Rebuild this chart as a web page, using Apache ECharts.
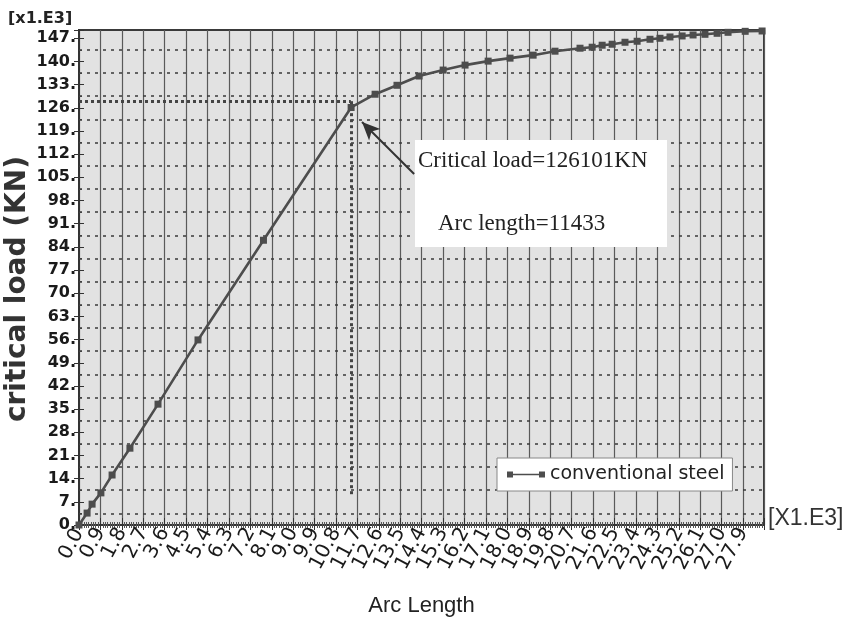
<!DOCTYPE html>
<html><head><meta charset="utf-8">
<script src="https://cdn.jsdelivr.net/npm/echarts@6/dist/echarts.min.js"></script>
<style>html,body{margin:0;padding:0;background:#fff}#c{width:847px;height:622px}</style>
</head><body><div id="c"></div>
<script>
// ---- data ----
const arcLength = [0, 0.34, 0.55, 0.92, 1.39, 2.14, 3.32, 5.00, 7.75, 11.433, 12.44, 13.36, 14.29, 15.30, 16.22, 17.19, 18.11, 19.08, 20.00, 21.05, 21.56, 21.98, 22.40, 22.94, 23.45, 23.99, 24.41, 24.83, 25.34, 25.80, 26.30, 26.81, 27.27, 27.99, 28.70];
const criticalLoad = [0, 3.6, 6.3, 9.7, 15.1, 23.2, 36.5, 55.9, 86.0, 126.101, 130.1, 132.8, 135.6, 137.4, 138.9, 140.1, 141.0, 141.9, 143.1, 144.0, 144.3, 144.9, 145.2, 145.8, 146.1, 146.7, 147.0, 147.4, 147.7, 148.0, 148.2, 148.5, 148.8, 149.1, 149.2];
const xTickLabels = ["0.0","0.9","1.8","2.7","3.6","4.5","5.4","6.3","7.2","8.1","9.0","9.9","10.8","11.7","12.6","13.5","14.4","15.3","16.2","17.1","18.0","18.9","19.8","20.7","21.6","22.5","23.4","24.3","25.2","26.1","27.0","27.9"];
const yTickLabels = ["0.","7.","14.","21.","28.","35.","42.","49.","56.","63.","70.","77.","84.","91.","98.","105.","112.","119.","126.","133.","140.","147."];
const yGridLines = [3.5,10.5,17.5,24.5,31.5,38.5,45.5,52.5,59.5,66.5,73.5,80.5,87.5,94.5,101.5,108.5,115.5,122.5,129.5,136.5,143.5];
const guideH = [[0,128],[11.42,128]];
const guideV = [[11.42,128],[11.42,9]];
const arrowPts = [[14.08,106.0],[11.89,121.7]];
const seriesName = "conventional steel";
const xTitle = "Arc Length";
const yTitle = "critical load (KN)";
const annText1 = "Critical load=126101KN";
const annText2 = "Arc length=11433";
const xRange = {min:0, max:28.78, step:0.9};
const yRange = {min:0, max:149.5, step:7};

const chart = echarts.init(document.getElementById('c'));
const axisCol = '#333';
const xLabelRotate = 62, xLabelMargin = 4, xLabelFont = 'DejaVu Sans', xLabelSize = 20;
const xAxisBase = {type:'value', min:xRange.min, max:xRange.max, interval:xRange.step};
const yAxisBase = {type:'value', min:yRange.min, max:yRange.max, interval:yRange.step};
chart.setOption({
  animation:false,
  backgroundColor:'#fff',
  grid:{left:79,right:83,top:30,bottom:97,containLabel:false,outerBoundsMode:'none',show:true,backgroundColor:'#e2e2e2',borderColor:'#3a3a3a',borderWidth:2},
  legend:{
    data:[seriesName], left:497, top:458, orient:'horizontal', z:50,
    backgroundColor:'#fff', borderColor:'#888', borderWidth:1, padding:[7,8,7,10],
    itemWidth:38, itemHeight:8, itemGap:5,
    icon:'path://M0,0H6V6H0Z M6,2.2H32V3.8H6Z M32,0H38V6H32Z',
    textStyle:{fontFamily:'DejaVu Sans',fontSize:19,color:'#222'}
  },
  xAxis:[
    Object.assign({}, xAxisBase, {
      position:'bottom',
      axisLine:{show:true,lineStyle:{color:axisCol,width:2}},
      axisTick:{show:true,inside:true,length:7,lineStyle:{color:axisCol}},
      minorTick:{show:true,splitNumber:9,length:3,lineStyle:{color:'#555'}},
      splitLine:{show:true,lineStyle:{color:'#5a5a5a',width:1.2}},
      axisLabel:{rotate:xLabelRotate,margin:xLabelMargin,fontFamily:xLabelFont,fontSize:xLabelSize,color:'#1a1a1a',
        showMaxLabel:false,showMinLabel:false,hideOverlap:false,
        formatter:(v,i)=> (xTickLabels[i] !== undefined ? xTickLabels[i] : '')},
      name:xTitle, nameLocation:'middle', nameGap:70,
      nameTextStyle:{fontFamily:'Liberation Sans',fontSize:22,color:'#222'}
    }),
    Object.assign({}, xAxisBase, {
      position:'top',
      axisLine:{show:true,lineStyle:{color:axisCol,width:2}},
      axisTick:{show:true,inside:true,length:5,lineStyle:{color:axisCol}},
      minorTick:{show:true,splitNumber:9,length:3,lineStyle:{color:'#555'}},
      splitLine:{show:false}, axisLabel:{show:false}
    })
  ],
  yAxis:[
    Object.assign({}, yAxisBase, {
      position:'left',
      axisLine:{show:true,lineStyle:{color:axisCol,width:2}},
      axisTick:{show:true,inside:true,length:5,lineStyle:{color:axisCol}},
      minorTick:{show:true,splitNumber:2,length:3,lineStyle:{color:'#555'}},
      splitLine:{show:false},
      axisLabel:{margin:3,fontFamily:'DejaVu Sans',fontWeight:'bold',fontSize:16,color:'#1a1a1a',showMaxLabel:false,showMinLabel:true,
        formatter:(v,i)=> (yTickLabels[i] !== undefined ? yTickLabels[i] : '')}
    }),
    Object.assign({}, yAxisBase, {
      position:'right',
      axisLine:{show:true,lineStyle:{color:axisCol,width:2}},
      axisTick:{show:true,inside:true,length:5,lineStyle:{color:axisCol}},
      minorTick:{show:false},
      splitLine:{show:false}, axisLabel:{show:false}
    })
  ],
  series:[
    {
      name:'grid', type:'line', data:[], z:1, silent:true,
      markLine:{silent:true, symbol:['none','none'], label:{show:false},
        lineStyle:{type:[3,5],color:'#3a3a3a',width:1.6},
        data: yGridLines.map(v=>({yAxis:v}))}
    },
    {
      name:seriesName, type:'line', z:5,
      data: arcLength.map((x,i)=>[x, criticalLoad[i]]),
      symbol:'rect', symbolSize:7, showSymbol:true,
      lineStyle:{color:'#4d4d4d',width:2.6},
      itemStyle:{color:'#4d4d4d'},
      markLine:{silent:true, symbol:['none','none'], label:{show:false},
        data:[
          [{coord:guideH[0], lineStyle:{type:[3,3],color:'#444',width:3}},{coord:guideH[1]}],
          [{coord:guideV[0], lineStyle:{type:[3,3],color:'#444',width:3}},{coord:guideV[1]}],
          [{coord:arrowPts[0], symbol:'none', lineStyle:{type:'solid',color:'#333',width:2}},
           {coord:arrowPts[1], symbol:'arrow', symbolSize:[12,18]}]
        ]}
    }
  ],
  graphic:[
    {type:'rect', z:100, shape:{x:415,y:140,width:252,height:107}, style:{fill:'#fff'}},
    {type:'text', z:101, style:{x:418,y:161,text:annText1,font:'23px "Liberation Serif"',fill:'#222',textVerticalAlign:'middle'}},
    {type:'text', z:101, style:{x:438,y:224,text:annText2,font:'23px "Liberation Serif"',fill:'#222',textVerticalAlign:'middle'}},
    {type:'text', z:101, style:{x:8,y:19,text:'[x1.E3]',font:'bold 16px "DejaVu Sans"',fill:'#222',textVerticalAlign:'middle'}},
    {type:'text', z:101, style:{x:768,y:519,text:'[X1.E3]',font:'23px "Liberation Sans"',fill:'#333',textVerticalAlign:'middle'}},
    {type:'text', z:101, x:18, y:289, rotation:Math.PI/2,
      style:{x:0,y:0,text:yTitle,font:'bold 28px "DejaVu Sans"',fill:'#333',textAlign:'center',textVerticalAlign:'middle'}}
  ]
});
// first x tick label (ECharts hides it when it touches the next one), placed at the axis origin
const origin = chart.convertToPixel({xAxisIndex:0, yAxisIndex:0}, [xRange.min, yRange.min]);
chart.setOption({graphic:[{id:'xMinLabel', type:'text', z:101, x:origin[0], y:origin[1] + xLabelMargin + 1,
  rotation: xLabelRotate * Math.PI / 180,
  style:{x:0,y:0,text:xTickLabels[0],font: xLabelSize + 'px "' + xLabelFont + '"',fill:'#1a1a1a',textAlign:'right',textVerticalAlign:'middle'}}]});
</script></body></html>
